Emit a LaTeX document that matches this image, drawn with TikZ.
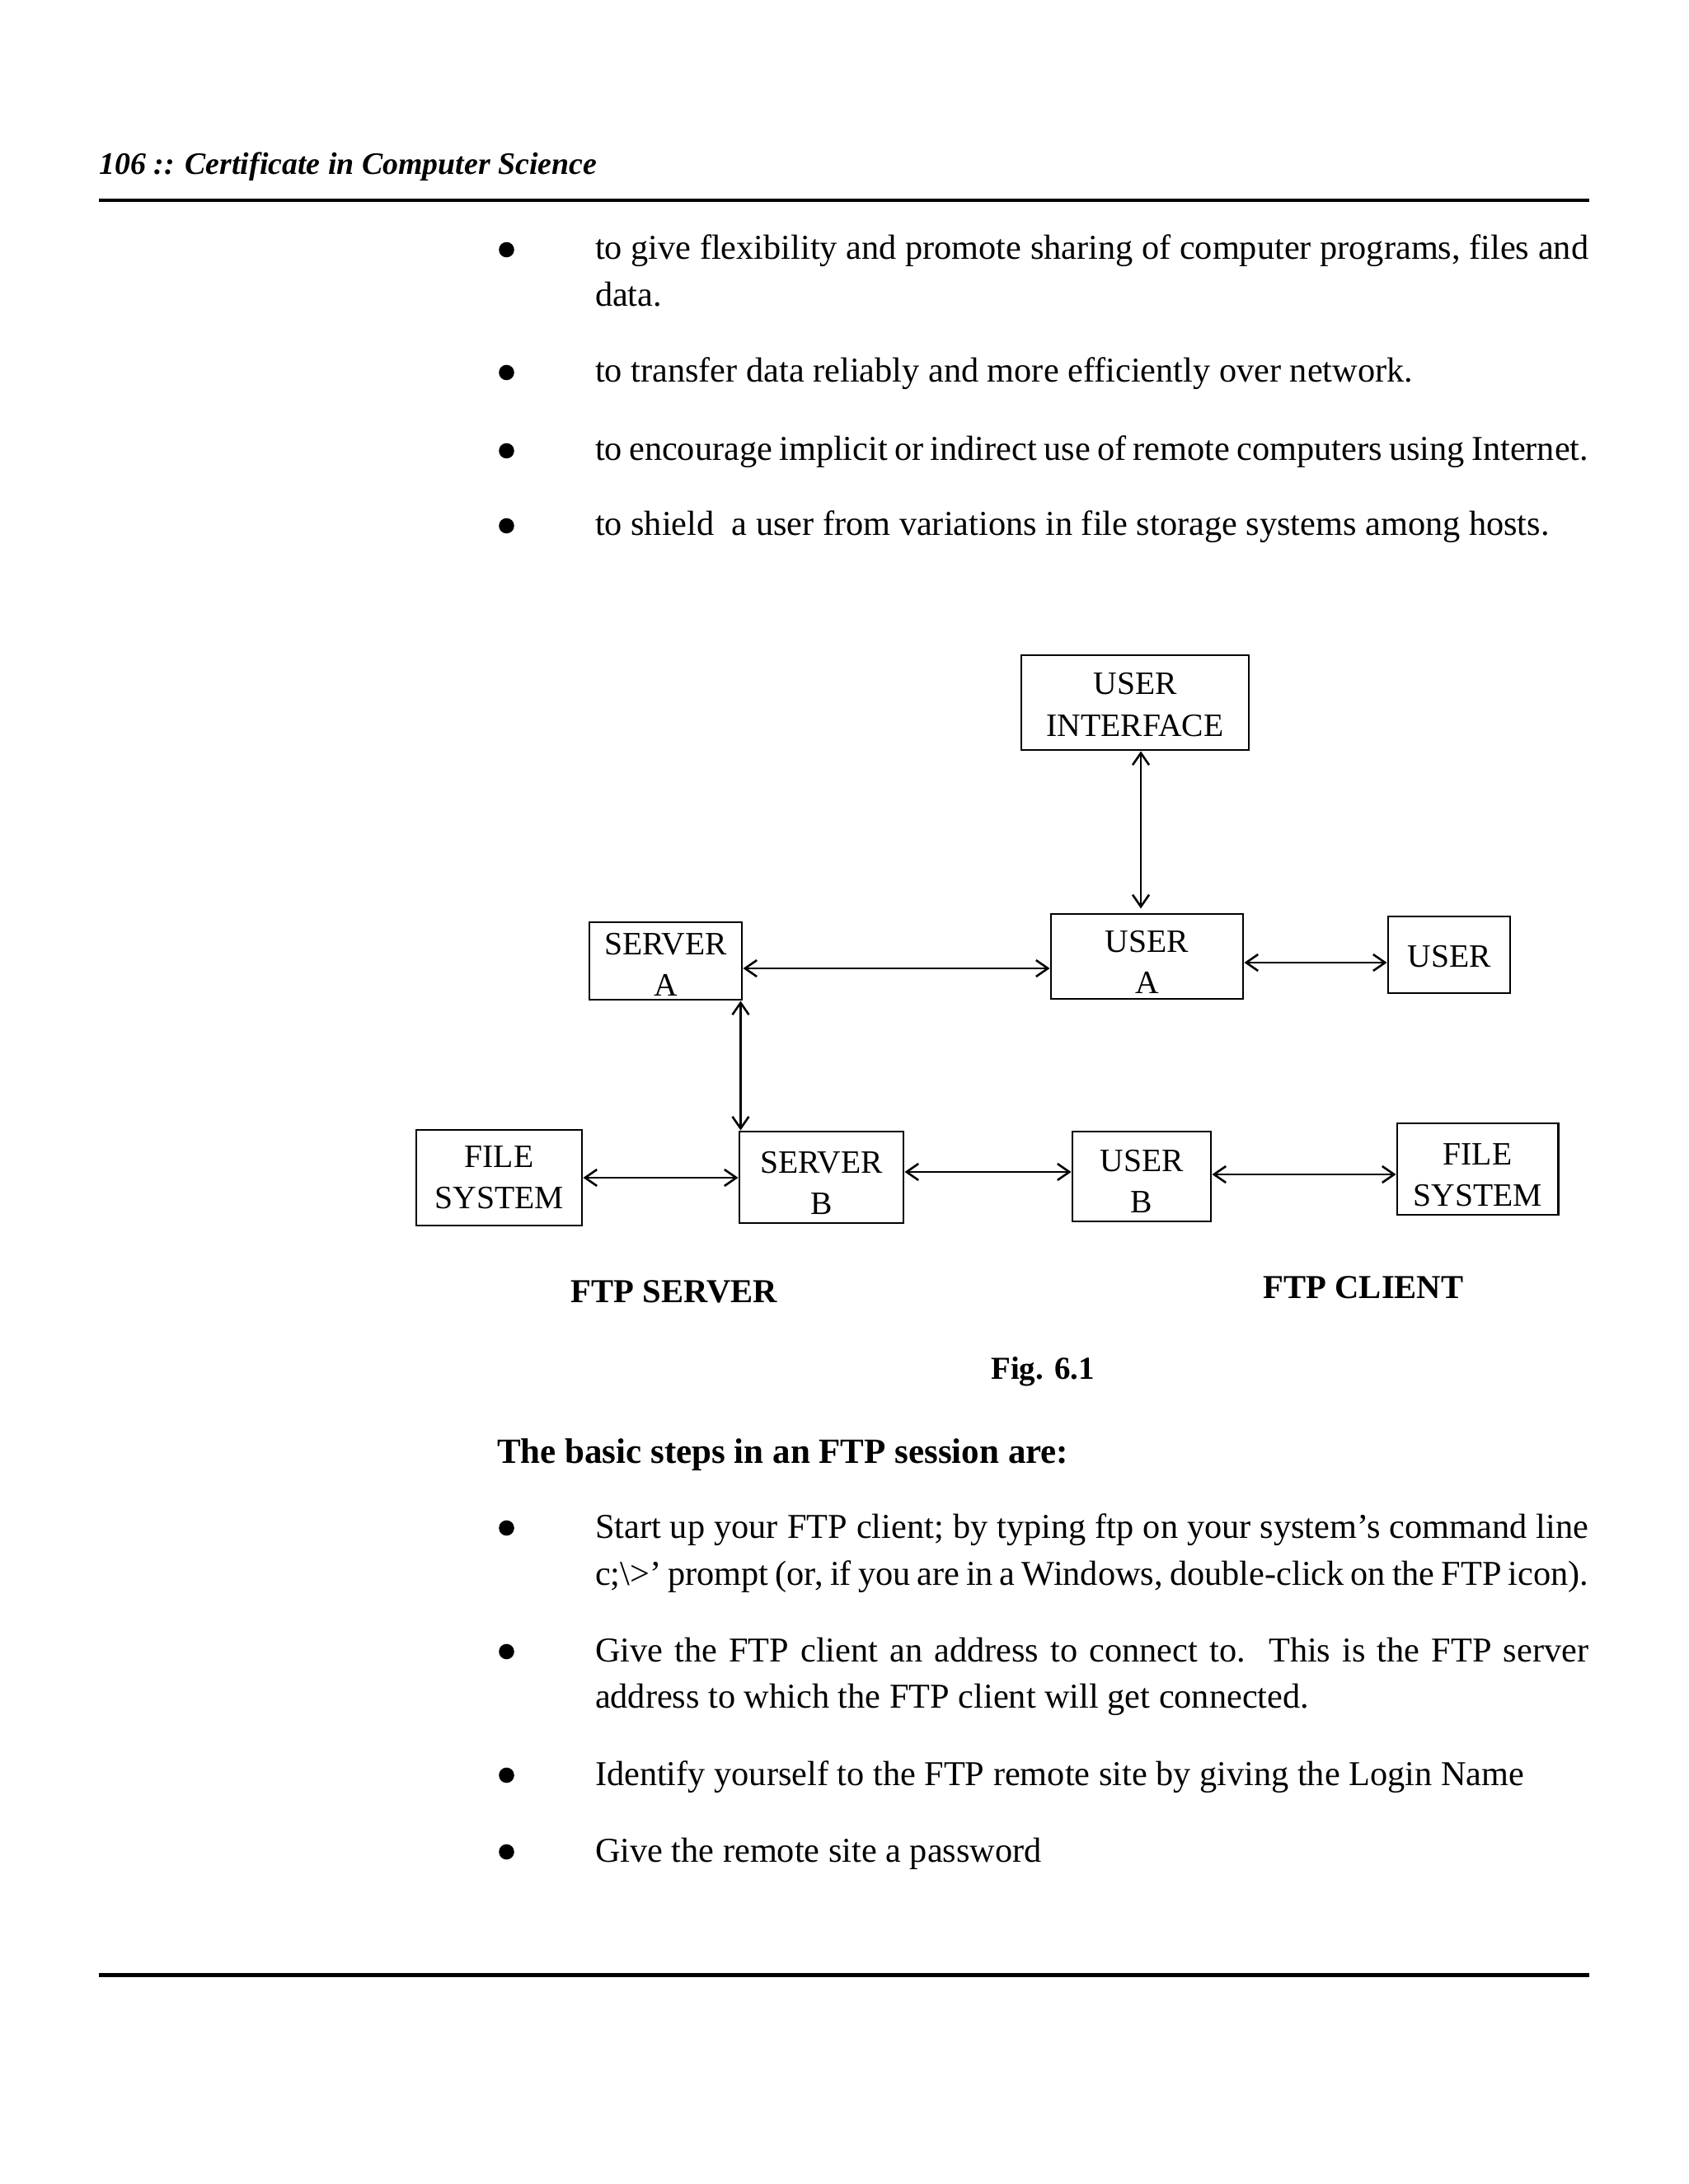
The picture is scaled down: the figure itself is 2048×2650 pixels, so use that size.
\documentclass[tikz,border=0pt]{standalone}
\usepackage{fontspec}
\setmainfont{Liberation Serif}
\usetikzlibrary{arrows.meta,calc}
\newcommand\jline[1]{\makebox[350.3pt][s]{#1}}
\begin{document}
\begin{tikzpicture}[x=0.2907pt,y=-0.2907pt,
  body/.style={anchor=base west, inner sep=0pt, outer sep=0pt, font=\fontsize{12.3}{14.8}\selectfont},
  bodybold/.style={anchor=base west, inner sep=0pt, outer sep=0pt, font=\bfseries\fontsize{12.5}{15}\selectfont},
  bul/.style={circle, fill=black, inner sep=0pt, minimum size=5.4pt},
  box/.style={draw, line width=0.85pt, rectangle, inner sep=0pt, font=\fontsize{11.5}{14.54}\selectfont},
  lbl/.style={anchor=base, inner sep=0pt, font=\bfseries\fontsize{11.8}{14}\selectfont},
  rulestyle/.style={line width=1.4pt},
  arr/.style={line width=0.75pt, arrows={Straight Barb[length=4.2pt,width=5.8pt]-Straight Barb[length=4.2pt,width=5.8pt]}}
]
\fill[white] (0,0) rectangle (2048,2650);
\useasboundingbox (0,0) rectangle (2048,2650);

% header
\node[anchor=base west, inner sep=0pt, font=\bfseries\itshape\fontsize{11}{13}\selectfont] (hdr) at (120,212) {106 :: Certificate in Computer Science};
\draw[rulestyle] (120,243) -- (1928,243);

% top bullets
\node[bul] (b1) at (614.5,303) {};
\node[body] (t1a) at (722,315) {\jline{to give flexibility and promote sharing of computer programs, files and}};
\node[body] (t1b) at (722,372) {data.};
\node[bul] (b2) at (614.5,452) {};
\node[body] (t2) at (722,464) {to transfer data reliably and more efficiently over network.};
\node[bul] (b3) at (614.5,547) {};
\node[body] (t3) at (722,559) {\jline{to encourage implicit or indirect use of remote computers using Internet.}};
\node[bul] (b4) at (614.5,638) {};
\node[body] (t4) at (722,650) {to shield\ \ a user from variations in file storage systems among hosts.};

% diagram boxes
\node[box, minimum width=80.23pt, text height=13.95pt, text depth=19.48pt] (ui) at (1377,852.5)
  {\begin{tabular}[t]{@{}c@{}}USER\\INTERFACE\end{tabular}};
\node[box, minimum width=53.78pt, text height=11.34pt, text depth=15.99pt] (sa) at (807.5,1166)
  {\begin{tabular}[t]{@{}c@{}}SERVER\\A\end{tabular}};
\node[box, minimum width=67.73pt, text height=13.37pt, text depth=16.57pt] (ua) at (1391.5,1160.5)
  {\begin{tabular}[t]{@{}c@{}}USER\\A\end{tabular}};
\node[box, minimum width=43.02pt, text height=17.73pt, text depth=9.30pt] (usr) at (1758,1158.5)
  {USER};
\node[box, minimum width=58.43pt, text height=13.08pt, text depth=20.64pt] (fsl) at (605.5,1429)
  {\begin{tabular}[t]{@{}c@{}}FILE\\SYSTEM\end{tabular}};
\node[box, minimum width=57.85pt, text height=14.54pt, text depth=17.73pt] (sb) at (996.5,1428.5)
  {\begin{tabular}[t]{@{}c@{}}SERVER\\B\end{tabular}};
\node[box, minimum width=48.84pt, text height=13.95pt, text depth=17.73pt] (ub) at (1385,1427.5)
  {\begin{tabular}[t]{@{}c@{}}USER\\B\end{tabular}};
\node[box, minimum width=56.69pt, text height=14.54pt, text depth=17.73pt] (fsr) at (1792.5,1418.5)
  {\begin{tabular}[t]{@{}c@{}}FILE\\SYSTEM\end{tabular}};

% connectors
\draw[arr, shorten >=1.5pt] ($(ui.south)+(7,0)$) coordinate (v0) -- (v0 |- ua.north);
\draw[arr] ($(sa.east)+(0,9)$) coordinate (h1) -- (h1 -| ua.west);
\draw[arr] ($(ua.east)+(0,7.5)$) coordinate (h2) -- (h2 -| usr.west);
\draw[arr] ($(sa.south east)+(-3,0)$) coordinate (v1) -- (v1 |- sb.north);
\draw[arr] (fsl.east) -- (fsl.east -| sb.west);
\draw[arr] ($(sb.east)+(0,-6.5)$) coordinate (h3) -- (h3 -| ub.west);
\draw[arr] ($(ub.east)+(0,-2.5)$) coordinate (h4) -- (h4 -| fsr.west);

% labels
\node[lbl] (ftps) at (818,1580) {FTP SERVER};
\node[lbl] (ftpc) at (1654,1575) {FTP CLIENT};
\node[lbl, font=\bfseries\fontsize{11.3}{13.5}\selectfont] (fig) at (1265,1673) {Fig. 6.1};

% lower text
\node[bodybold] (steps) at (603,1775) {The basic steps in an FTP session are:};
\node[bul] (b5) at (614.5,1854) {};
\node[body] (t5a) at (722,1866) {\jline{Start up your FTP client; by typing ftp on your system’s command line}};
\node[body] (t5b) at (722,1923) {\jline{c;\textbackslash>’ prompt (or, if you are in a Windows, double-click on the FTP icon).}};
\node[bul] (b6) at (614.5,2004) {};
\node[body] (t6a) at (722,2016) {\jline{Give the FTP client an address to connect to.\ \ This is the FTP server}};
\node[body] (t6b) at (722,2072) {address to which the FTP client will get connected.};
\node[bul] (b7) at (614.5,2154) {};
\node[body] (t7) at (722,2166) {Identify yourself to the FTP remote site by giving the Login Name};
\node[bul] (b8) at (614.5,2247) {};
\node[body] (t8) at (722,2259) {Give the remote site a password};

\draw[rulestyle] (120,2396.5) -- (1928,2396.5);
\end{tikzpicture}
\end{document}
